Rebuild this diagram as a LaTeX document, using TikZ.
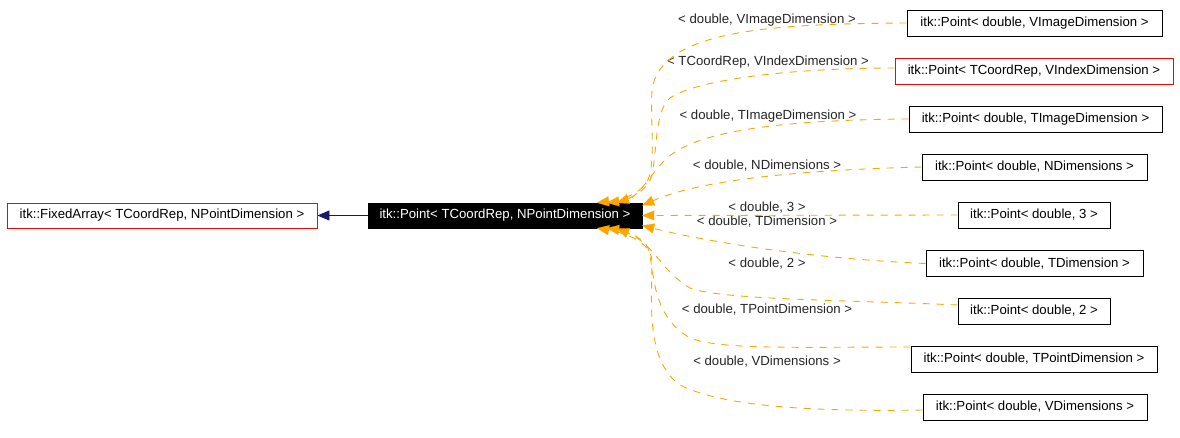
\documentclass[tikz,border=0pt]{standalone}
\usepackage{fontspec}
\setmainfont{Liberation Sans}
\usetikzlibrary{arrows.meta,calc}
\definecolor{edgeorange}{HTML}{FFA500}
\definecolor{midblue}{HTML}{191970}
\begin{document}
\begin{tikzpicture}[x=1pt,y=-1pt,
  every node/.style={font=\fontsize{13.2}{15}\selectfont, inner sep=0pt},
  box/.style={draw=black, line width=0.9pt, minimum height=26pt, fill=white},
  redbox/.style={draw=red, line width=0.9pt, minimum height=26pt, fill=white},
  mainbox/.style={draw=black, fill=black, text=white, minimum height=25pt},
  lbl/.style={text=black!85},
  dep/.style={draw=edgeorange, line width=0.9pt, dash pattern=on 7pt off 7pt,
     -{Triangle[length=12pt,width=10pt,fill=edgeorange,line width=0.1pt]}},
  inh/.style={draw=midblue, line width=0.9pt,
     -{Triangle[length=12pt,width=10pt,fill=midblue]}}
]
\useasboundingbox[fill=white] (0,0) rectangle (1180,438);

\node[redbox, minimum width=310pt, minimum height=25pt] (fa) at (162,215.5) {itk::FixedArray< TCoordRep, NPointDimension >};
\node[mainbox, minimum width=274pt] (main) at (505,215.5) {itk::Point< TCoordRep, NPointDimension >};

\node[box, minimum width=255pt] (p1) at (1034.5,23) {itk::Point< double, VImageDimension >};
\node[redbox, minimum width=278pt] (p2) at (1034,71) {itk::Point< TCoordRep, VIndexDimension >};
\node[box, minimum width=253pt] (p3) at (1035.5,119) {itk::Point< double, TImageDimension >};
\node[box, minimum width=225pt] (p4) at (1034.5,167) {itk::Point< double, NDimensions >};
\node[box, minimum width=152pt] (p5) at (1034,215) {itk::Point< double, 3 >};
\node[box, minimum width=217pt] (p6) at (1034.5,263.5) {itk::Point< double, TDimension >};
\node[box, minimum width=152pt] (p7) at (1034,311) {itk::Point< double, 2 >};
\node[box, minimum width=246pt] (p8) at (1034,359) {itk::Point< double, TPointDimension >};
\node[box, minimum width=224pt] (p9) at (1035,407) {itk::Point< double, VDimensions >};

\node[lbl] (l1) at (767,20) {< double, VImageDimension >};
\node[lbl] (l2) at (768,62) {< TCoordRep, VIndexDimension >};
\node[lbl] (l3) at (768,116) {< double, TImageDimension >};
\node[lbl] (l4) at (767,166) {< double, NDimensions >};
\node[lbl] (l5) at (767,208) {< double, 3 >};
\node[lbl] (l6) at (767,222) {< double, TDimension >};
\node[lbl] (l7) at (767,264) {< double, 2 >};
\node[lbl] (l8) at (767,310) {< double, TPointDimension >};
\node[lbl] (l9) at (767,362) {< double, VDimensions >};

\draw[inh] (main.west) -- (fa.east);

\draw[dep] (p1.west) .. controls (780,24) and (660,28) .. (652,90)
   .. controls (650,120) and (656,160) .. (648,180)
   .. controls (640,195) and (620,200) .. ([xshift=92pt]main.north);
\draw[dep] ([yshift=3pt]p2.west) .. controls (800,68) and (700,78) .. (670,98)
   .. controls (655,110) and (657,150) .. (652,175)
   .. controls (648,190) and (630,200) .. ([xshift=102pt]main.north);
\draw[dep] (p3.west) .. controls (760,120) and (690,135) .. (665,160)
   .. controls (650,175) and (640,195) .. ([xshift=112pt]main.north);
\draw[dep] (p4.west) .. controls (800,170) and (700,180) .. ([yshift=10pt]main.east);
\draw[dep] (p5.west) -- (main.east);
\draw[dep] (p6.west) .. controls (800,258) and (700,240) .. ([yshift=-10pt]main.east);
\draw[dep] ([yshift=6pt]p7.west) .. controls (850,300) and (720,300) .. (690,288)
   .. controls (660,270) and (655,245) .. ([xshift=112pt]main.south);
\draw[dep] ([yshift=12pt]p8.west) .. controls (800,347) and (720,350) .. (690,338)
   .. controls (650,315) and (655,270) .. (648,248)
   .. controls (642,235) and (620,230) .. ([xshift=102pt]main.south);
\draw[dep] ([yshift=-3pt]p9.west) .. controls (800,412) and (720,405) .. (680,385)
   .. controls (645,360) and (652,300) .. (652,262)
   .. controls (652,240) and (620,232) .. ([xshift=92pt]main.south);
\end{tikzpicture}
\end{document}
